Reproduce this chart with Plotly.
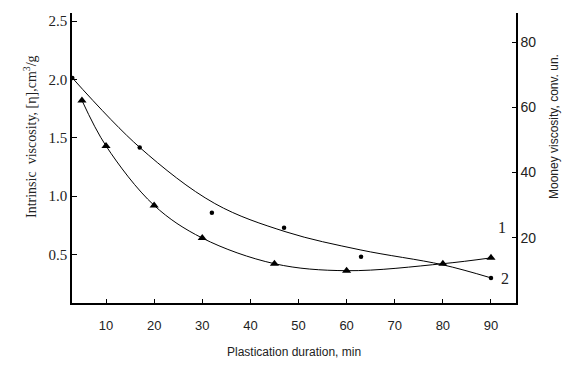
import plotly.graph_objects as go

# Curve 1: intrinsic viscosity (triangles, left axis)
t_time = [5, 10, 20, 30, 45, 60, 80, 90]
t_visc = [1.82, 1.43, 0.92, 0.64, 0.42, 0.36, 0.42, 0.47]

# Curve 2: Mooney viscosity (dots, right axis)
c_time = [3, 17, 32, 47, 63, 90]
c_mooney = [69, 47.7, 27.7, 23.1, 14.2, 7.7]

# Smoothed trend drawn through curve 2
f_time = [3, 17, 32.6, 47.4, 62.8, 80, 90]
f_mooney = [69, 47.7, 30.5, 21.8, 16.3, 11.7, 7.7]

x_ticks = [10, 20, 30, 40, 50, 60, 70, 80, 90]
left_ticks = [0.5, 1.0, 1.5, 2.0, 2.5]
right_ticks = [20, 40, 60, 80]

serif = "Liberation Serif, Times New Roman, serif"
sans = "Liberation Sans, Arial, sans-serif"

fig = go.Figure()
fig.add_trace(go.Scatter(
    x=t_time, y=t_visc, mode="lines+markers",
    line=dict(color="black", width=1, shape="spline", smoothing=1.0),
    marker=dict(symbol="triangle-up", size=8, color="black"),
    yaxis="y", showlegend=False, cliponaxis=False))
fig.add_trace(go.Scatter(
    x=f_time, y=f_mooney, mode="lines",
    line=dict(color="black", width=1, shape="spline", smoothing=1.0),
    yaxis="y2", showlegend=False))
fig.add_trace(go.Scatter(
    x=c_time, y=c_mooney, mode="markers",
    marker=dict(symbol="circle", size=4.5, color="black"),
    yaxis="y2", showlegend=False, cliponaxis=False))

fig.update_layout(
    width=565, height=368,
    margin=dict(l=72, r=49, t=13, b=65, autoexpand=False),
    paper_bgcolor="white", plot_bgcolor="white",
    xaxis=dict(
        range=[2.93, 95.2], tickvals=x_ticks, ticks="inside", ticklen=4,
        tickcolor="black", showline=True, linecolor="black", linewidth=1.5,
        showgrid=False, zeroline=False, automargin=False, ticklabelstandoff=10,
        tickfont=dict(family=sans, size=13, color="#222"),
    ),
    yaxis=dict(
        range=[0.083, 2.57], tickvals=left_ticks, tickformat=".1f",
        ticks="inside", ticklen=5, tickcolor="black",
        showline=True, linecolor="black", linewidth=1.5,
        showgrid=False, zeroline=False, automargin=False,
        tickfont=dict(family=serif, size=15, color="#222"),
    ),
    yaxis2=dict(
        range=[0, 88.9], tickvals=right_ticks, overlaying="y", side="right",
        ticks="inside", ticklen=4, tickcolor="black",
        showline=True, linecolor="black", linewidth=1.5,
        showgrid=False, zeroline=False, automargin=False,
        tickfont=dict(family=sans, size=14, color="#222"),
    ),
    annotations=[
        dict(x=92.3, y=0.73, xref="x", yref="y", text="1", showarrow=False,
             font=dict(family=serif, size=16, color="#222")),
        dict(x=92.9, y=0.29, xref="x", yref="y", text="2", showarrow=False,
             font=dict(family=serif, size=16, color="#222")),
        dict(x=(294 - 72) / 444, y=(303 - 352) / 290, xref="paper", yref="paper",
             xanchor="center", yanchor="middle",
             text="Plastication duration, min", showarrow=False,
             font=dict(family=sans, size=12, color="#222")),
        dict(x=(30 - 72) / 444, y=(303 - 137) / 290, xref="paper", yref="paper",
             xanchor="center", yanchor="middle",
             text="Intrinsic  viscosity, [η],cm<sup>3</sup>/g", showarrow=False,
             textangle=-90, font=dict(family=serif, size=14, color="#222")),
        dict(x=(554 - 72) / 444, y=(303 - 127) / 290, xref="paper", yref="paper",
             xanchor="center", yanchor="middle",
             text="Mooney viscosity, conv. un.", showarrow=False,
             textangle=-90, font=dict(family=sans, size=12, color="#222")),
    ],
)

fig.write_html("out.html", config={"displayModeBar": False},
               post_script="document.body.style.margin='0';document.body.style.padding='0';")
